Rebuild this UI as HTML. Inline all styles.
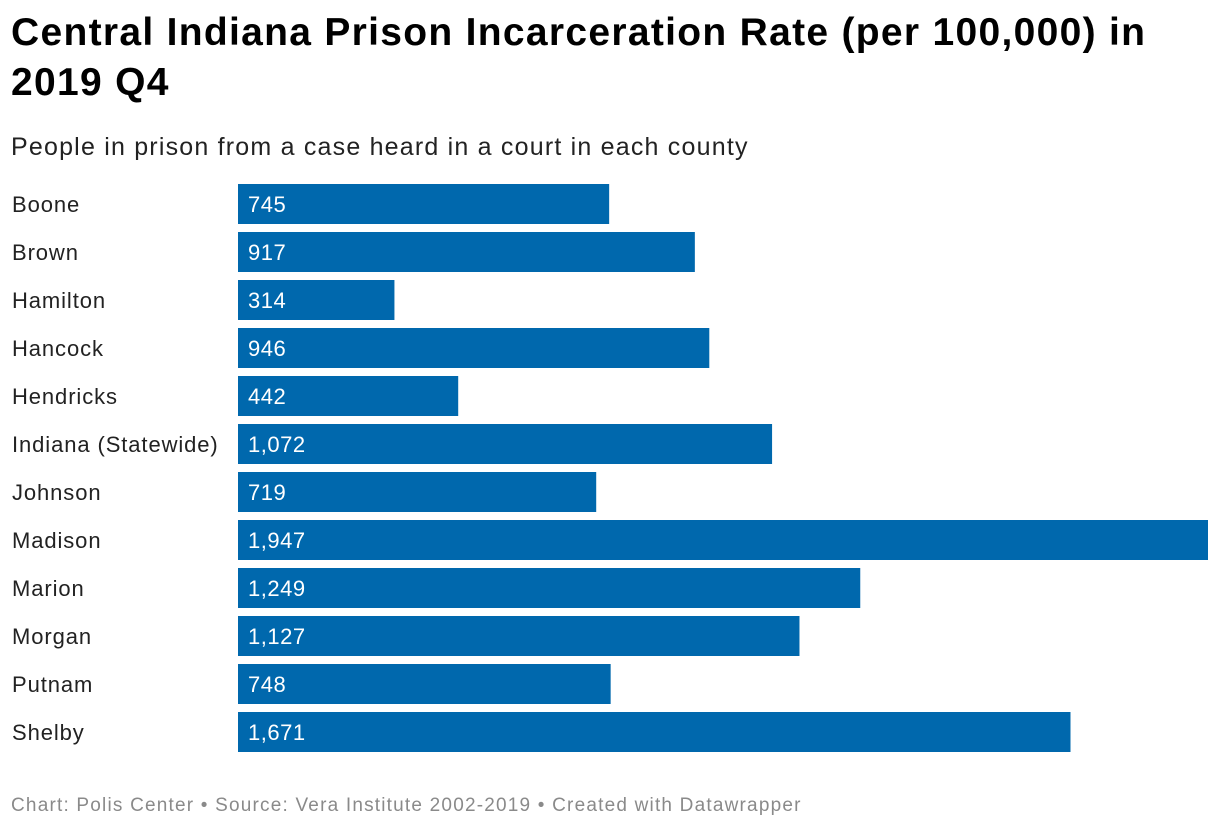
<!DOCTYPE html>
<html><head><meta charset="utf-8">
<style>
body{margin:0;background:#fff;width:1220px;height:828px;overflow:hidden;font-family:"Liberation Sans",Arial,sans-serif;}
#title{position:absolute;left:11px;top:8px;width:1210px;font-size:39px;font-weight:bold;line-height:50px;color:#000;letter-spacing:1.3px;white-space:nowrap}
#sub{position:absolute;left:11px;top:133px;font-size:25px;color:#222;letter-spacing:1.2px}
#foot{position:absolute;left:11px;top:795px;font-size:19px;color:#8a8a8a;letter-spacing:1.2px}
svg{position:absolute;left:0;top:0}
</style></head><body>
<div id="title">Central Indiana Prison Incarceration Rate (per 100,000) in<br>2019 Q4</div>
<div id="sub">People in prison from a case heard in a court in each county</div>
<svg id="chart" width="1220" height="828"></svg>
<div id="foot">Chart: Polis Center • Source: Vera Institute 2002-2019 • Created with Datawrapper</div>
<script>
const categories=["Boone","Brown","Hamilton","Hancock","Hendricks","Indiana (Statewide)","Johnson","Madison","Marion","Morgan","Putnam","Shelby"];
const values=[745,917,314,946,442,1072,719,1947,1249,1127,748,1671];
const labels=["745","917","314","946","442","1,072","719","1,947","1,249","1,127","748","1,671"];
const svg=document.getElementById('chart');
const NS='http://www.w3.org/2000/svg';
const x0=238,x1=1208,maxV=Math.max(...values);
const xs=v=>x0+(x1-x0)*v/maxV;
const ys=i=>184+48*i;
categories.forEach((c,i)=>{
  const t=document.createElementNS(NS,'text');
  
  
  t.setAttribute('x',12);t.setAttribute('y',ys(i)+28);
  t.setAttribute('font-size','22');t.setAttribute('fill','#222');
  t.setAttribute('letter-spacing','0.9');
  t.textContent=c;svg.appendChild(t);
  const r=document.createElementNS(NS,'rect');
  
  
  r.setAttribute('x',x0);r.setAttribute('y',ys(i));
  r.setAttribute('width',xs(values[i])-x0);r.setAttribute('height',40);
  r.setAttribute('fill','#0068ad');svg.appendChild(r);
  const v=document.createElementNS(NS,'text');
  
  
  v.setAttribute('x',x0+10);v.setAttribute('y',ys(i)+28);
  v.setAttribute('font-size','22');v.setAttribute('fill','#fff');
  v.setAttribute('letter-spacing','0.5');
  v.textContent=labels[i];svg.appendChild(v);
});
</script>
</body></html>
